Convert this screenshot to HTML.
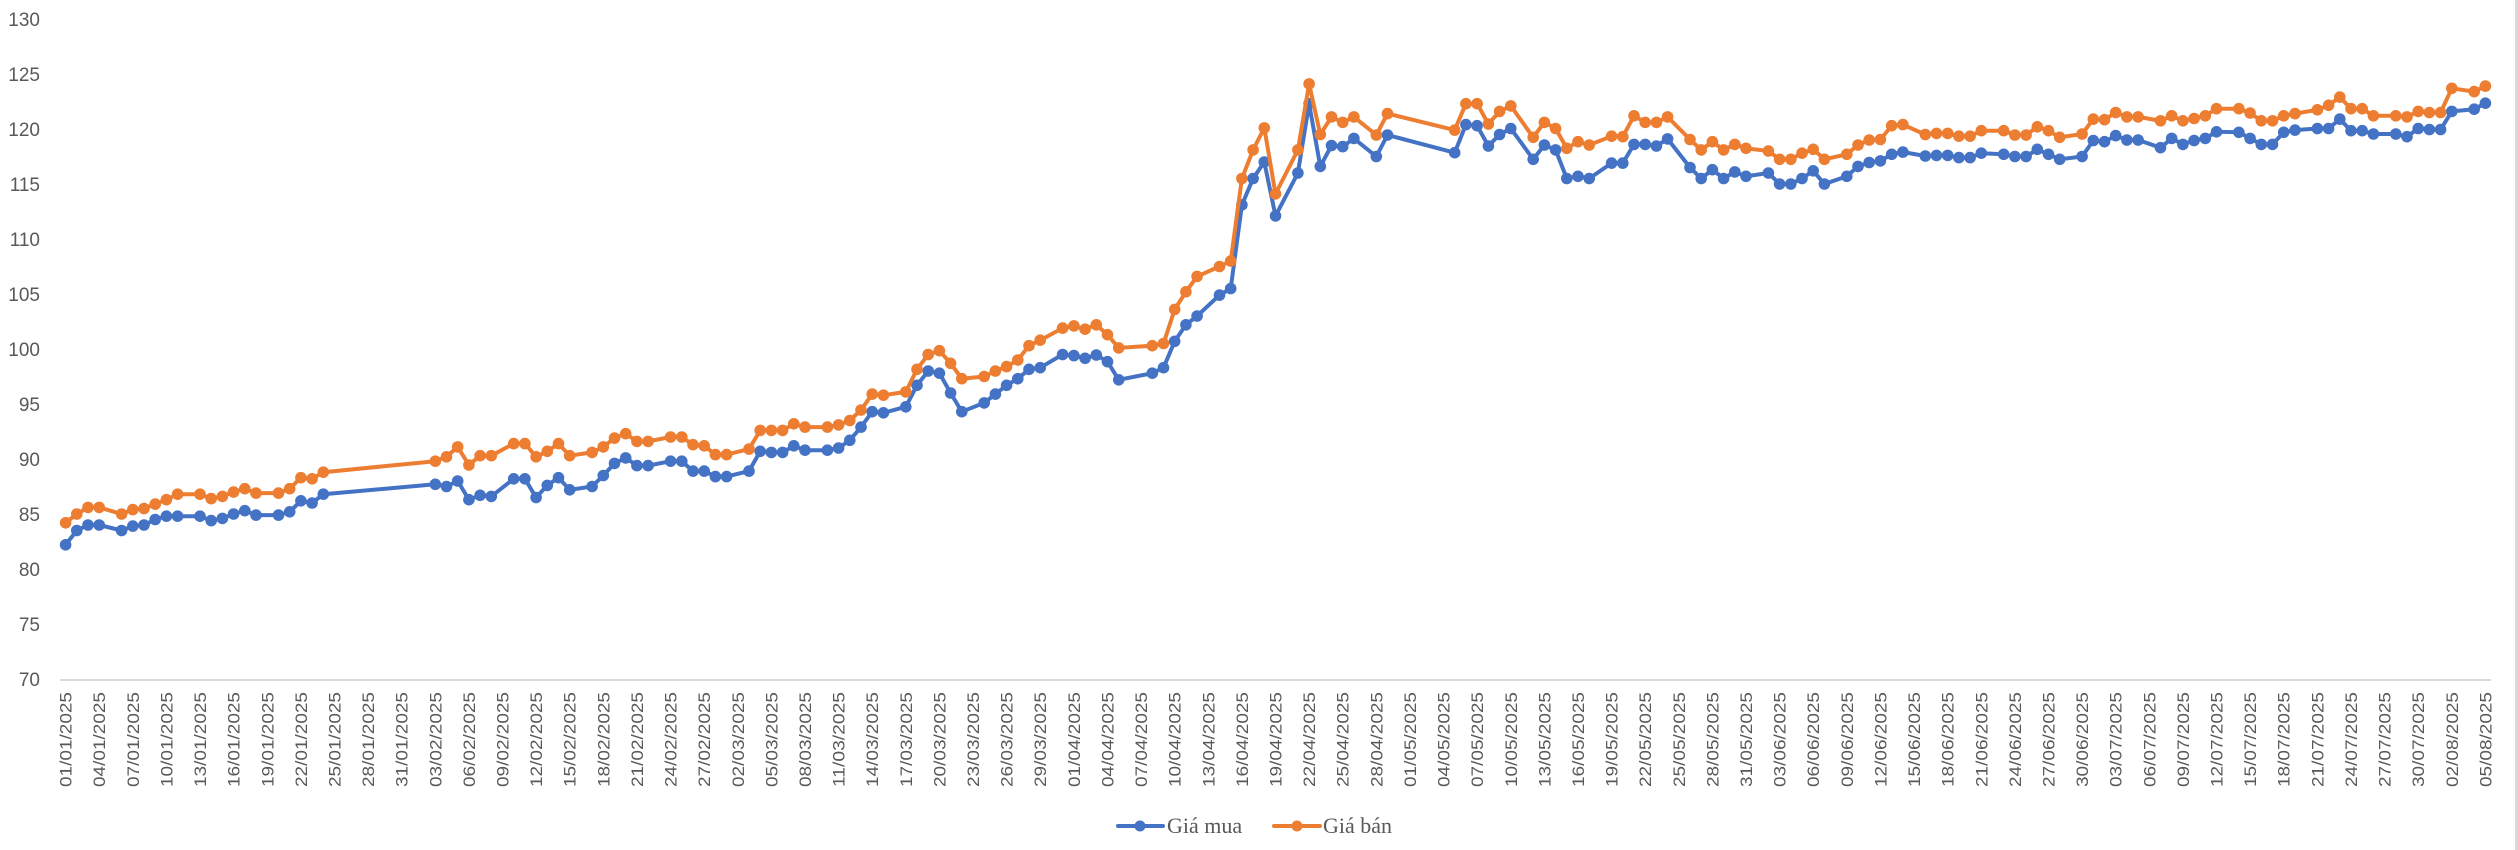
<!DOCTYPE html>
<html><head><meta charset="utf-8"><title>Giá mua / Giá bán</title>
<style>
html,body{margin:0;padding:0;background:#fff;}
svg{display:block;}
</style></head>
<body>
<svg id="chart" xmlns="http://www.w3.org/2000/svg" width="2518" height="850" viewBox="0 0 2518 850">
  <rect x="0" y="0" width="2518" height="850" fill="#fff"/>
  <rect x="2515" y="0" width="3" height="850" fill="#d9d9d9"/>
  <g id="yaxis"></g>
  <g id="xaxis"></g>
  <g id="series"></g>
  <g id="legend">
    <g>
      <line x1="1118" y1="826" x2="1163" y2="826" stroke="#4472C4" stroke-width="4" stroke-linecap="round"/>
      <circle cx="1140" cy="826" r="5.5" fill="#4472C4"/>
      <text x="1167" y="833" font-family="Liberation Serif, serif" font-size="22" fill="#595959">Giá mua</text>
    </g>
    <g>
      <line x1="1274" y1="826" x2="1320" y2="826" stroke="#ED7D31" stroke-width="4" stroke-linecap="round"/>
      <circle cx="1297" cy="826" r="5.5" fill="#ED7D31"/>
      <text x="1323" y="833" font-family="Liberation Serif, serif" font-size="22" fill="#595959">Giá bán</text>
    </g>
  </g>
</svg>
<script>
// ---- data ----
const dates = [
"01/01","02/01","03/01","04/01","06/01","07/01","08/01","09/01","10/01","11/01","13/01","14/01","15/01","16/01","17/01","18/01","20/01","21/01","22/01","23/01","24/01",
"03/02","04/02","05/02","06/02","07/02","08/02","10/02","11/02","12/02","13/02","14/02","15/02","17/02","18/02","19/02","20/02","21/02","22/02","24/02","25/02","26/02","27/02","28/02",
"01/03","03/03","04/03","05/03","06/03","07/03","08/03","10/03","11/03","12/03","13/03","14/03","15/03","17/03","18/03","19/03","20/03","21/03","22/03","24/03","25/03","26/03","27/03","28/03","29/03","31/03",
"01/04","02/04","03/04","04/04","05/04","08/04","09/04","10/04","11/04","12/04","14/04","15/04","16/04","17/04","18/04","19/04","21/04","22/04","23/04","24/04","25/04","26/04","28/04","29/04",
"05/05","06/05","07/05","08/05","09/05","10/05","12/05","13/05","14/05","15/05","16/05","17/05","19/05","20/05","21/05","22/05","23/05","24/05","26/05","27/05","28/05","29/05","30/05","31/05",
"02/06","03/06","04/06","05/06","06/06","07/06","09/06","10/06","11/06","12/06","13/06","14/06","16/06","17/06","18/06","19/06","20/06","21/06","23/06","24/06","25/06","26/06","27/06","28/06","30/06",
"01/07","02/07","03/07","04/07","05/07","07/07","08/07","09/07","10/07","11/07","12/07","14/07","15/07","16/07","17/07","18/07","19/07","21/07","22/07","23/07","24/07","25/07","26/07","28/07","29/07","30/07","31/07",
"01/08","02/08","04/08","05/08"];
const buyValues = [
82.2,83.5,84.0,84.0,83.5,83.9,84.0,84.5,84.8,84.8,84.8,84.4,84.6,85.0,85.3,84.9,84.9,85.2,86.2,86.0,86.8,
87.7,87.5,88.0,86.3,86.7,86.6,88.2,88.2,86.5,87.6,88.3,87.2,87.5,88.5,89.6,90.1,89.4,89.4,89.8,89.8,88.9,88.9,88.4,
88.4,88.9,90.7,90.6,90.6,91.2,90.8,90.8,91.0,91.7,92.9,94.3,94.2,94.75,96.7,98.0,97.8,96.0,94.3,95.1,95.9,96.7,97.3,98.15,98.3,99.5,
99.4,99.15,99.45,98.85,97.2,97.8,98.3,100.7,102.2,103.0,104.9,105.5,113.1,115.5,117.0,112.1,116.0,122.3,116.6,118.5,118.4,119.15,117.5,119.45,
117.85,120.4,120.3,118.45,119.5,120.05,117.25,118.55,118.1,115.5,115.7,115.5,116.9,116.9,118.6,118.6,118.45,119.1,116.5,115.5,116.3,115.5,116.1,115.7,
116.0,115.0,115.0,115.5,116.2,115.0,115.7,116.6,116.95,117.1,117.7,117.9,117.55,117.6,117.6,117.4,117.4,117.8,117.7,117.5,117.5,118.15,117.7,117.25,117.5,
118.95,118.85,119.4,119.0,119.0,118.3,119.15,118.6,118.95,119.15,119.75,119.7,119.15,118.6,118.6,119.7,119.9,120.05,120.05,120.9,119.85,119.85,119.55,119.55,119.3,120.05,119.95,
119.95,121.6,121.8,122.35];
const sellValues = [
84.2,85.0,85.6,85.6,85.0,85.4,85.5,85.9,86.3,86.8,86.8,86.4,86.6,87.0,87.3,86.9,86.9,87.3,88.3,88.2,88.8,
89.8,90.2,91.1,89.45,90.3,90.3,91.4,91.4,90.2,90.7,91.4,90.3,90.6,91.1,91.9,92.3,91.6,91.6,92.0,92.0,91.3,91.2,90.4,
90.4,90.9,92.6,92.6,92.6,93.2,92.9,92.9,93.1,93.5,94.45,95.9,95.8,96.1,98.15,99.5,99.85,98.7,97.3,97.5,98.0,98.4,99.0,100.3,100.8,101.9,
102.1,101.8,102.2,101.3,100.1,100.3,100.5,103.6,105.2,106.6,107.5,108.0,115.5,118.1,120.1,114.1,118.1,124.1,119.5,121.1,120.6,121.1,119.45,121.4,
119.9,122.3,122.3,120.45,121.6,122.1,119.25,120.6,120.05,118.25,118.85,118.55,119.35,119.3,121.2,120.6,120.6,121.1,119.05,118.1,118.85,118.1,118.6,118.25,
118.0,117.25,117.25,117.8,118.15,117.25,117.7,118.55,119.0,119.05,120.3,120.4,119.5,119.6,119.6,119.35,119.35,119.85,119.85,119.45,119.45,120.2,119.85,119.25,119.55,
120.9,120.85,121.5,121.1,121.1,120.75,121.2,120.75,120.95,121.2,121.85,121.85,121.45,120.75,120.75,121.2,121.4,121.75,122.15,122.9,121.85,121.85,121.2,121.2,121.1,121.6,121.5,
121.5,123.7,123.4,123.9];
const yTicks = [70,75,80,85,90,95,100,105,110,115,120,125,130];
const seriesNames = ["Giá mua","Giá bán"];

// ---- axes ----
const NS = "http://www.w3.org/2000/svg";
const X0 = 60, X1 = 2491, Y_TOP = 19, Y_BOT = 679, YMIN = 70, YMAX = 130;
const monthStart = [0,31,59,90,120,151,181,212];
const NCAT = 217;
const catW = (X1 - X0) / NCAT;
function dateIndex(s){ const p = s.split("/"); return monthStart[+p[1]-1] + (+p[0]) - 1; }
function xPos(i){ return X0 + catW * (i + 0.5); }
function yPos(v){ return Y_BOT - (v - YMIN) / (YMAX - YMIN) * (Y_BOT - Y_TOP); }
function mk(tag, attrs, parent){ const e = document.createElementNS(NS, tag); for (const k in attrs) e.setAttribute(k, attrs[k]); parent.appendChild(e); return e; }

const yaxis = document.getElementById("yaxis");
yTicks.forEach(t => {
  const tx = mk("text", {x: 40, y: yPos(t) + 7, "text-anchor": "end", "font-family": "Liberation Sans, sans-serif", "font-size": 19, fill: "#595959"}, yaxis);
  
  
  tx.textContent = t;
});

const xaxis = document.getElementById("xaxis");
const axisLine = mk("line", {x1: X0, y1: Y_BOT + 1, x2: X1, y2: Y_BOT + 1, stroke: "#d9d9d9", "stroke-width": 2}, xaxis);


const monthLen = [31,28,31,30,31,30,31,31];
const categories = [];
for (let m = 0; m < 8; m++) for (let d = 1; d <= monthLen[m]; d++) {
  categories.push(String(d).padStart(2,"0") + "/" + String(m+1).padStart(2,"0") + "/2025");
}
for (let i = 0; i < NCAT; i += 3) {
  const x = xPos(i);
  const tx = mk("text", {x: 0, y: 0, transform: `translate(${x + 6},692) rotate(-90)`, "text-anchor": "end",
    "font-family": "Liberation Sans, sans-serif", "font-size": 17, fill: "#595959", textLength: 95, lengthAdjust: "spacingAndGlyphs"}, xaxis);
  
  
  tx.textContent = categories[i];
}

// ---- series ----
const series = document.getElementById("series");
function drawSeries(vals, color, name){
  const g = mk("g", {}, series);
  
  
  const pts = dates.map((d, k) => [xPos(dateIndex(d)), yPos(vals[k])]);
  const pl = mk("polyline", {points: pts.map(p => p[0].toFixed(1) + "," + p[1].toFixed(1)).join(" "), fill: "none", stroke: color, "stroke-width": 4, "stroke-linejoin": "round"}, g);
  
  
  pts.forEach(p => {
    const c = mk("circle", {cx: p[0].toFixed(1), cy: p[1].toFixed(1), r: 5.8, fill: color}, g);
    
    
  });
}
drawSeries(buyValues, "#4472C4", "gia-mua-series");
drawSeries(sellValues, "#ED7D31", "gia-ban-series");
</script>
</body></html>
